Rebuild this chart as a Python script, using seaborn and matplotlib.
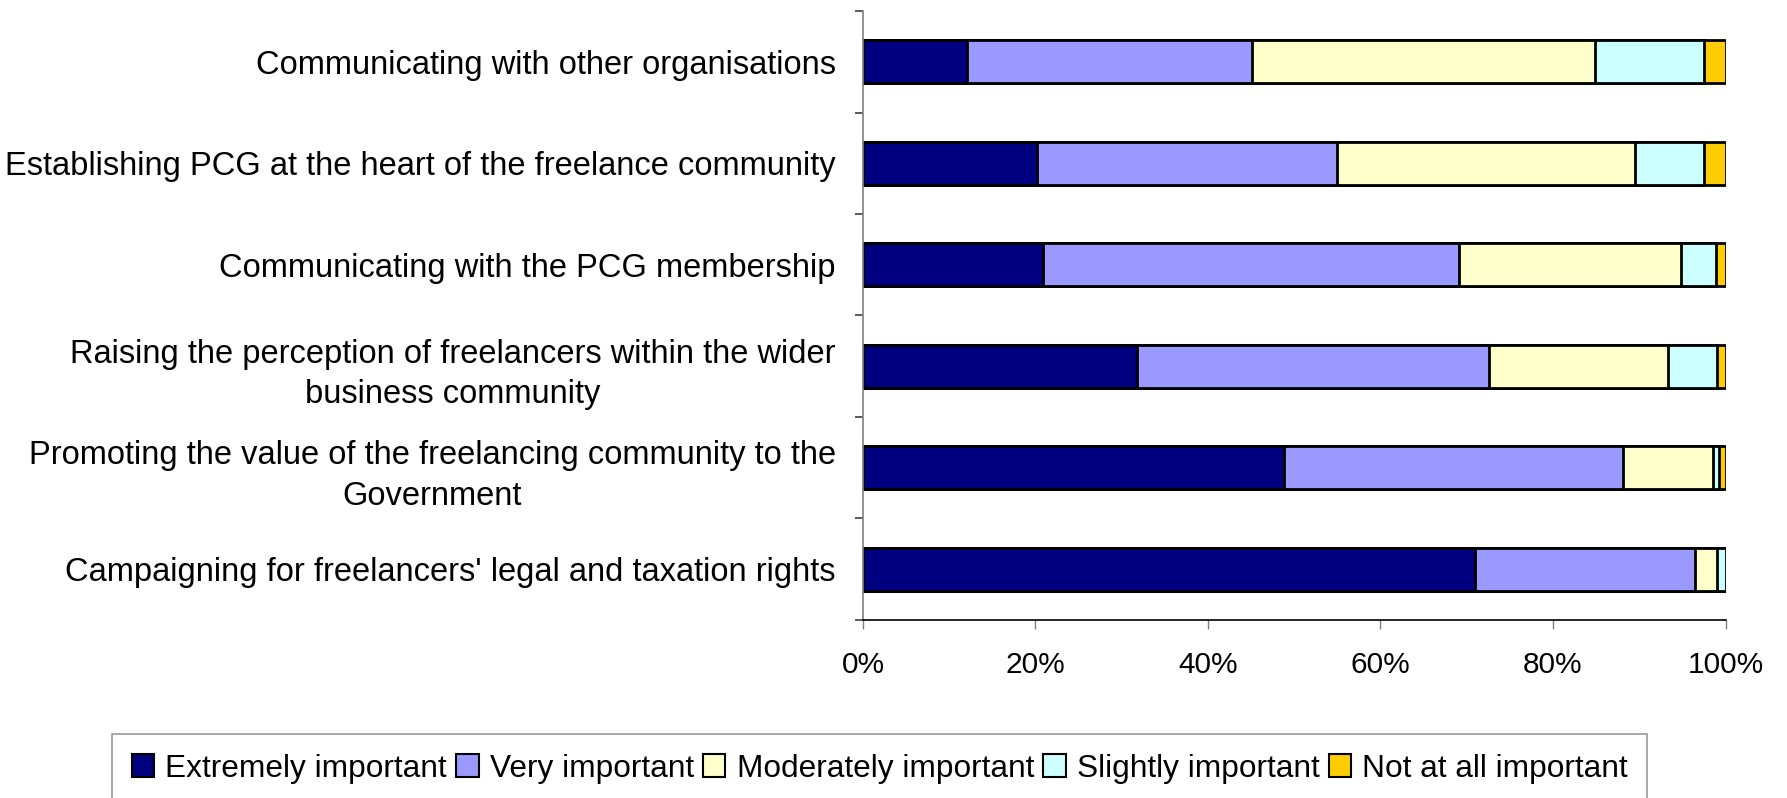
import numpy as np
import pandas as pd
import matplotlib
matplotlib.use("Agg")
import matplotlib.pyplot as plt
from matplotlib.ticker import FixedLocator, FuncFormatter
from matplotlib.patches import Patch
import seaborn as sns

# Survey: importance of PCG activities (share of respondents, %)
activities = [
    "Communicating with other organisations",
    "Establishing PCG at the heart of the freelance community",
    "Communicating with the PCG membership",
    "Raising the perception of freelancers within the wider\nbusiness community",
    "Promoting the value of the freelancing community to the\nGovernment",
    "Campaigning for freelancers' legal and taxation rights",
]
levels = [
    "Extremely important",
    "Very important",
    "Moderately important",
    "Slightly important",
    "Not at all important",
]
extremely = [12.1, 20.2, 20.9, 31.8, 48.8, 70.9]
very = [33.0, 34.8, 48.2, 40.8, 39.3, 25.6]
moderately = [39.8, 34.5, 25.7, 20.7, 10.5, 2.5]
slightly = [12.6, 8.0, 4.1, 5.7, 0.6, 1.0]
not_at_all = [2.5, 2.5, 1.1, 1.0, 0.8, 0.0]
colors = ["#000080", "#9999FF", "#FFFFCC", "#CCFFFF", "#FFCC00"]

sns.set_theme(style="white")
plt.rcParams["font.family"] = ["Liberation Sans", "DejaVu Sans"]
plt.rcParams["text.color"] = "black"
plt.rcParams["xtick.labelcolor"] = "black"
plt.rcParams["ytick.labelcolor"] = "black"

df = pd.DataFrame({
    "activity": activities,
    levels[0]: extremely,
    levels[1]: very,
    levels[2]: moderately,
    levels[3]: slightly,
    levels[4]: not_at_all,
})
cum = df[levels].cumsum(axis=1)

fig = plt.figure(figsize=(17.87, 7.98), dpi=100)
ax = fig.add_axes([0.4829, 0.2231, 0.9656 - 0.4829, 0.9862 - 0.2231])

# Stacked bars: draw cumulative totals from the widest down
for lvl, col in reversed(list(zip(levels, colors))):
    sns.barplot(
        data=pd.DataFrame({"activity": activities, "value": cum[lvl]}),
        x="value", y="activity", order=activities, orient="h",
        color=col, saturation=1, width=0.42, errorbar=None,
        edgecolor="black", linewidth=2.0, ax=ax,
    )

ax.set_xlim(0, 100)
ax.set_ylim(len(activities) - 0.5, -0.5)
ax.set_xlabel("")
ax.set_ylabel("")

ax.xaxis.set_major_locator(FixedLocator([0, 20, 40, 60, 80, 100]))
ax.xaxis.set_major_formatter(FuncFormatter(lambda v, p: f"{v:.0f}%"))
ax.tick_params(axis="x", which="major", direction="out", length=6.5, width=1,
               color="#808080", labelsize=21.5, pad=15.5, bottom=True)

ax.yaxis.set_minor_locator(FixedLocator(np.arange(-0.5, len(activities), 1.0)))
ax.tick_params(axis="y", which="major", length=0, labelsize=23.5, pad=19.5)
ax.tick_params(axis="y", which="minor", direction="out", length=6, width=1.2,
               color="#404040", left=True)
for lab in ax.get_yticklabels():
    lab.set_multialignment("center")
    lab.set_linespacing(1.4)

for side in ("top", "right"):
    ax.spines[side].set_visible(False)
ax.spines["left"].set_color("#808080")
ax.spines["left"].set_linewidth(1.2)
ax.spines["bottom"].set_color("black")
ax.spines["bottom"].set_linewidth(1.2)

handles = [Patch(facecolor=c, edgecolor="black", linewidth=1.5) for c in colors]
fig.legend(
    handles, levels, loc="upper center", bbox_to_anchor=(0.4924, 0.0802),
    ncol=5, frameon=True, fancybox=False, edgecolor="#808080", fontsize=22.8,
    handlelength=0.7, handleheight=0.7, handletextpad=0.35, columnspacing=0.3,
    borderpad=0.62, borderaxespad=0,
).get_frame().set_linewidth(1.2)

fig.savefig("out.png", dpi=100, facecolor="white")
